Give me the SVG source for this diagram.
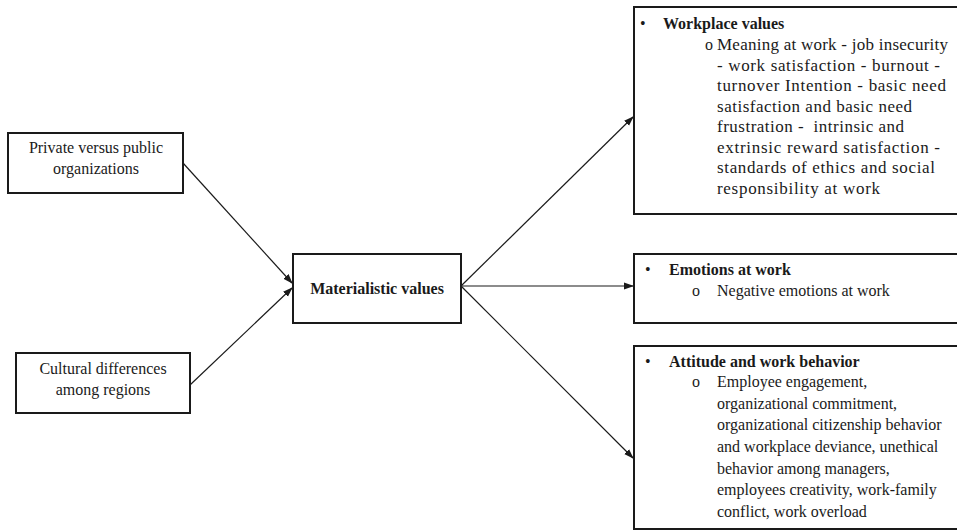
<svg xmlns="http://www.w3.org/2000/svg" width="957" height="531" viewBox="0 0 957 531">
<defs>
<marker id="ah" markerWidth="10" markerHeight="8" refX="9" refY="4" orient="auto" markerUnits="userSpaceOnUse">
<path d="M0,0.5 L10,4 L0,7.5 Z" fill="#1a1a1a"/>
</marker>
</defs>
<style>
.box{fill:#fff;stroke:#1a1a1a;stroke-width:2}
text{font-family:'Liberation Serif','Times New Roman',serif;font-size:16px;fill:#1a1a1a}
.c{text-anchor:middle}
.b{font-weight:bold}
.l{font-size:17px}
.conn{stroke:#1a1a1a;stroke-width:1.2;fill:none;marker-end:url(#ah)}
</style>
<rect width="957" height="531" fill="#fff"/>
<g id="connectors">
<line class="conn" x1="183" y1="163" x2="292" y2="283"/>
<line class="conn" x1="190" y1="385" x2="292" y2="288"/>
<line class="conn" x1="461" y1="286" x2="633" y2="117"/>
<line class="conn" x1="461" y1="286" x2="633" y2="286"/>
<line class="conn" x1="461" y1="286" x2="633" y2="458"/>
</g>
<g id="private">
<rect class="box" x="8" y="133" width="175" height="60"/>
<text class="c" x="96" y="153">Private versus public</text>
<text class="c" x="96" y="174">organizations</text>
</g>
<g id="cultural">
<rect class="box" x="16" y="353" width="174" height="60"/>
<text class="c" x="103" y="374">Cultural differences</text>
<text class="c" x="103" y="395">among regions</text>
</g>
<g id="materialistic">
<rect class="box" x="293" y="254" width="168" height="69"/>
<text class="c b" x="377" y="294">Materialistic values</text>
</g>
<g id="workplace">
<rect class="box" x="634" y="7" width="330" height="207"/>
<text x="640" y="29">•</text>
<text class="b" x="663" y="29">Workplace values</text>
<text x="705" y="50">o</text>
<text class="l" x="717" y="50" textLength="231" lengthAdjust="spacing">Meaning at work - job insecurity</text>
<text class="l" x="717" y="70.5" textLength="223" lengthAdjust="spacing">- work satisfaction - burnout -</text>
<text class="l" x="717" y="91" textLength="229" lengthAdjust="spacing">turnover Intention - basic need</text>
<text class="l" x="717" y="111.5" textLength="195" lengthAdjust="spacing">satisfaction and basic need</text>
<text class="l" x="717" y="132" textLength="187" lengthAdjust="spacing" xml:space="preserve">frustration -  intrinsic and</text>
<text class="l" x="717" y="152.5" textLength="223" lengthAdjust="spacing">extrinsic reward satisfaction -</text>
<text class="l" x="717" y="173" textLength="218" lengthAdjust="spacing">standards of ethics and social</text>
<text class="l" x="717" y="193.5" textLength="163" lengthAdjust="spacing">responsibility at work</text>
</g>
<g id="emotions">
<rect class="box" x="634" y="254" width="330" height="69"/>
<text x="645" y="275">•</text>
<text class="b" x="669" y="275">Emotions at work</text>
<text x="692" y="296">o</text>
<text x="717" y="296">Negative emotions at work</text>
</g>
<g id="attitude">
<rect class="box" x="634" y="346" width="330" height="183"/>
<text x="645" y="367">•</text>
<text class="b" x="669" y="367">Attitude and work behavior</text>
<text x="692" y="387">o</text>
<text x="717" y="387">Employee engagement,</text>
<text x="717" y="408.5">organizational commitment,</text>
<text x="717" y="430">organizational citizenship behavior</text>
<text x="717" y="452">and workplace deviance, unethical</text>
<text x="717" y="473.5">behavior among managers,</text>
<text x="717" y="495">employees creativity, work-family</text>
<text x="717" y="516.5">conflict, work overload</text>
</g>
</svg>
